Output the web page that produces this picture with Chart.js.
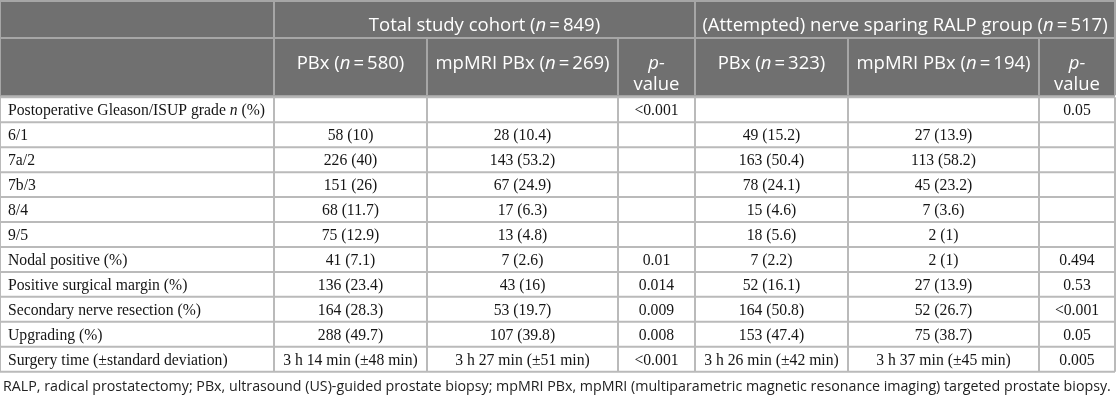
<!DOCTYPE html>
<html><head><meta charset="utf-8">
<script src="https://cdn.jsdelivr.net/npm/chart.js@4/dist/chart.umd.min.js"></script>
<style>html,body{margin:0;padding:0;background:#fff;overflow:hidden}canvas{display:block}</style>
</head><body>
<canvas id="c" width="1116" height="400"></canvas>
<script>
// ---------- data ----------
const categories = [
  "Postoperative Gleason/ISUP grade *n* (%)", "6/1", "7a/2", "7b/3", "8/4", "9/5",
  "Nodal positive (%)", "Positive surgical margin (%)", "Secondary nerve resection (%)",
  "Upgrading (%)", "Surgery time (\u00B1standard deviation)"
];
const pbxTotal = ["", "58 (10)", "226 (40)", "151 (26)", "68 (11.7)", "75 (12.9)", "41 (7.1)", "136 (23.4)", "164 (28.3)", "288 (49.7)", "3 h 14 min (\u00B148 min)"];
const mriTotal = ["", "28 (10.4)", "143 (53.2)", "67 (24.9)", "17 (6.3)", "13 (4.8)", "7 (2.6)", "43 (16)", "53 (19.7)", "107 (39.8)", "3 h 27 min (\u00B151 min)"];
const pTotal = ["<0.001", "", "", "", "", "", "0.01", "0.014", "0.009", "0.008", "<0.001"];
const pbxNS = ["", "49 (15.2)", "163 (50.4)", "78 (24.1)", "15 (4.6)", "18 (5.6)", "7 (2.2)", "52 (16.1)", "164 (50.8)", "153 (47.4)", "3 h 26 min (\u00B142 min)"];
const mriNS = ["", "27 (13.9)", "113 (58.2)", "45 (23.2)", "7 (3.6)", "2 (1)", "2 (1)", "27 (13.9)", "52 (26.7)", "75 (38.7)", "3 h 37 min (\u00B145 min)"];
const pNS = ["0.05", "", "", "", "", "", "0.494", "0.53", "<0.001", "0.05", "0.005"];
const groupHeaders = ["Total study cohort (*n*\u2009=\u2009849)", "(Attempted) nerve sparing RALP group (*n*\u2009=\u2009517)"];
const columnHeaders = ["PBx (*n*\u2009=\u2009580)", "mpMRI PBx (*n*\u2009=\u2009269)", "*p-*|value", "PBx (*n*\u2009=\u2009323)", "mpMRI PBx (*n*\u2009=\u2009194)", "*p-*|value"];
const footnote = "RALP, radical prostatectomy; PBx, ultrasound (US)-guided prostate biopsy; mpMRI PBx, mpMRI (multiparametric magnetic resonance imaging) targeted prostate biopsy.";
const series = [pbxTotal, mriTotal, pTotal, pbxNS, mriNS, pNS];

// ---------- layout / style ----------
const COL_EDGES = [0, 274, 427, 618, 695, 848, 1039, 1115];
const GROUP_SPANS = [[1, 4], [4, 7]];
const HEAD_ROW1 = 38;
const HEAD_BOTTOM = 97.3;
const TABLE_BOTTOM = 371.7;
const HEAD_BG = '#707070';
const HEAD_LINE = '#a6a6a6';
const BODY_LINE = '#bababa';
const SANS = '"Open Sans", "DejaVu Sans", sans-serif';
const SERIF = '"Liberation Serif", "DejaVu Serif", serif';
const HEAD_SIZE = 18.5;
const BODY_SIZE = 15.7;

function richSegments(str) {
  return str.split('*').map((t, i) => ({ t, it: i % 2 === 1 })).filter(s => s.t.length);
}
function drawRich(ctx, str, x, y, align, size, family, color) {
  const segs = richSegments(str);
  const fontOf = s => (s.it ? 'italic ' : '') + size + 'px ' + family;
  let w = 0;
  segs.forEach(s => { ctx.font = fontOf(s); w += ctx.measureText(s.t).width; });
  let cx = align === 'center' ? x - w / 2 : (align === 'right' ? x - w : x);
  ctx.fillStyle = color;
  ctx.textAlign = 'left';
  ctx.textBaseline = 'alphabetic';
  segs.forEach(s => { ctx.font = fontOf(s); ctx.fillText(s.t, cx, y); cx += ctx.measureText(s.t).width; });
}
function line(ctx, x1, y1, x2, y2, color, w) {
  ctx.strokeStyle = color; ctx.lineWidth = w;
  ctx.beginPath(); ctx.moveTo(x1, y1); ctx.lineTo(x2, y2); ctx.stroke();
}

const tablePlugin = {
  id: 'tablePlugin',
  afterDraw(chart) {
    const { ctx, chartArea, scales: { x, y } } = chart;
    const cols = COL_EDGES.map(v => x.getPixelForValue(v));
    const n = categories.length;
    const band = y.getPixelForValue(1) - y.getPixelForValue(0);
    const rowTop = i => y.getPixelForValue(i) - band / 2;
    const top = 0, hb = chartArea.top, bot = rowTop(n);
    ctx.save();
    ctx.fillStyle = '#fff';
    ctx.fillRect(0, 0, chart.width, chart.height);
    // header background
    ctx.fillStyle = HEAD_BG;
    ctx.fillRect(cols[0], top, cols[cols.length - 1] - cols[0], hb - top);

    // body grid
    for (let i = 0; i <= n; i++) {
      const yy = rowTop(i);
      line(ctx, cols[0], yy, cols[cols.length - 1], yy, BODY_LINE, 2);
    }
    cols.forEach(cx => line(ctx, cx, hb, cx, bot, BODY_LINE, 2));

    // header grid
    line(ctx, cols[0], top + 1, cols[cols.length - 1], top + 1, HEAD_LINE, 2);
    line(ctx, cols[0], HEAD_ROW1, cols[cols.length - 1], HEAD_ROW1, HEAD_LINE, 2);
    line(ctx, cols[0], hb - 1, cols[cols.length - 1], hb - 1, '#b4b4b4', 2);
    [0, 1, 4, 7].forEach(k => line(ctx, cols[k], top, cols[k], HEAD_ROW1, HEAD_LINE, 2));
    cols.forEach(cx => line(ctx, cx, HEAD_ROW1, cx, hb - 2, HEAD_LINE, 2));

    // header text
    GROUP_SPANS.forEach((sp, g) => {
      drawRich(ctx, groupHeaders[g], (cols[sp[0]] + cols[sp[1]]) / 2, top + 30.5, 'center', HEAD_SIZE, SANS, '#ffffff');
    });
    columnHeaders.forEach((h, j) => {
      const cx = (cols[j + 1] + cols[j + 2]) / 2;
      h.split('|').forEach((part, k) => {
        drawRich(ctx, part, cx, HEAD_ROW1 + 31 + k * 21, 'center', HEAD_SIZE, SANS, '#ffffff');
      });
    });

    // body text
    categories.forEach((lab, i) => {
      const by = y.getPixelForValue(i) + 5.3;
      drawRich(ctx, lab, cols[0] + 8, by, 'left', BODY_SIZE, SERIF, '#151515');
      series.forEach((s, j) => {
        if (s[i]) drawRich(ctx, s[i], (cols[j + 1] + cols[j + 2]) / 2, by, 'center', BODY_SIZE, SERIF, '#151515');
      });
    });

    // footnote fitted to table width
    ctx.font = '100px ' + SANS;
    const fw = ctx.measureText(footnote).width;
    const fsize = Math.min(16, 100 * (cols[cols.length - 1] - cols[0] - 6) / fw);
    drawRich(ctx, footnote, cols[0] + 3, 390.5, 'left', fsize, SANS, '#222222');
    ctx.restore();
  }
};

new Chart(document.getElementById('c'), {
  type: 'scatter',
  data: { datasets: [] },
  options: {
    responsive: false,
    animation: false,
    devicePixelRatio: 1,
    events: [],
    layout: { padding: { top: HEAD_BOTTOM, bottom: 400 - TABLE_BOTTOM, left: 0, right: 0 } },
    plugins: { legend: { display: false }, tooltip: { enabled: false }, title: { display: false } },
    scales: {
      x: { type: 'linear', min: 0, max: 1116, display: false },
      y: { type: 'category', labels: categories, offset: true, display: false }
    }
  },
  plugins: [tablePlugin]
});
</script>
</body></html>
